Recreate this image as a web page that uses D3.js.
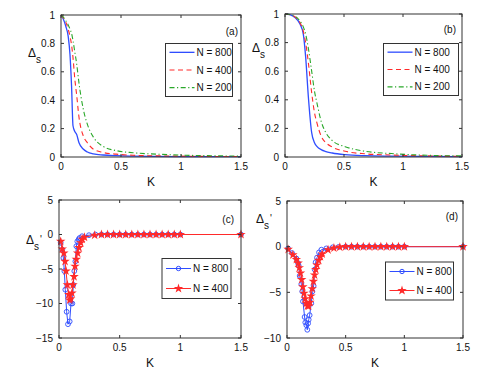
<!DOCTYPE html>
<html><head><meta charset="utf-8">
<script src="https://cdn.jsdelivr.net/npm/d3@7"></script>
<style>
body{margin:0;background:#fff;}
svg text{font-family:"Liberation Sans",Arial,sans-serif;fill:#111;}
</style></head>
<body><svg id="c" width="491" height="382"></svg>
<script>
// ---------- data ----------
const kA = [0,0.02,0.04,0.06,0.075,0.088,0.1,0.115,0.13,0.15,0.185,0.22,0.27,0.35,0.46,0.6,0.8,1.0,1.25,1.5];
const a800 = [1,0.97,0.92,0.85,0.72,0.5,0.22,0.18,0.16,0.1,0.056,0.035,0.022,0.014,0.009,0.006,0.004,0.003,0.002,0.002];
const a400 = [1,0.98,0.95,0.9,0.85,0.79,0.7,0.55,0.44,0.28,0.15,0.1,0.055,0.032,0.02,0.012,0.008,0.006,0.004,0.003];
const a200 = [1,0.985,0.96,0.93,0.9,0.87,0.82,0.74,0.66,0.52,0.34,0.23,0.14,0.075,0.045,0.03,0.02,0.013,0.009,0.006];

const kB = [0,0.04,0.085,0.127,0.155,0.175,0.198,0.226,0.25,0.27,0.31,0.34,0.4,0.51,0.68,0.9,1.2,1.5];
const b800 = [1,0.995,0.975,0.93,0.86,0.7,0.42,0.17,0.1,0.074,0.05,0.04,0.028,0.016,0.009,0.006,0.004,0.003];
const b400 = [1,0.995,0.98,0.94,0.88,0.8,0.66,0.45,0.31,0.24,0.14,0.105,0.07,0.04,0.022,0.014,0.008,0.005];
const b200 = [1,0.997,0.985,0.95,0.91,0.86,0.76,0.6,0.46,0.38,0.24,0.18,0.115,0.072,0.04,0.024,0.012,0.008];

const kC800 = [0.014,0.027,0.036,0.044,0.052,0.063,0.074,0.088,0.099,0.11,0.118,0.126,0.135,0.143,0.151,0.162,0.17,0.19,0.247,0.3,0.35,0.4,0.45,0.5,0.55,0.6,0.65,0.7,0.75,0.8,0.85,0.9,0.95,1.0,1.5];
const c800  = [-1.2,-2.2,-3.4,-5.3,-8.0,-11.2,-13.0,-12.6,-10.0,-10.0,-7.3,-5.3,-3.9,-1.7,-1.0,-0.7,-0.5,-0.25,-0.1,0,0,0,0,0,0,0,0,0,0,0,0,0,0,0,0];
const kC400 = [0.014,0.027,0.04,0.05,0.058,0.069,0.08,0.088,0.096,0.107,0.115,0.124,0.132,0.143,0.154,0.165,0.179,0.192,0.21,0.294,0.35,0.4,0.45,0.5,0.55,0.6,0.65,0.7,0.75,0.8,0.85,0.9,0.95,1.0,1.5];
const c400  = [-1.0,-2.1,-2.7,-3.9,-5.3,-7.3,-8.7,-9.5,-9.3,-8.5,-7.3,-6.1,-4.6,-3.6,-2.7,-1.9,-1.2,-0.7,-0.4,-0.1,0,0,0,0,0,0,0,0,0,0,0,0,0,0,0];

const kD800 = [0.009,0.043,0.08,0.094,0.1,0.108,0.122,0.13,0.136,0.15,0.156,0.165,0.173,0.18,0.185,0.193,0.207,0.216,0.227,0.236,0.244,0.256,0.273,0.293,0.335,0.39,0.44,0.5,0.55,0.6,0.65,0.7,0.75,0.8,0.85,0.9,0.95,1.0,1.5];
const d800  = [-0.2,-0.7,-1.3,-1.8,-2.1,-3.2,-4.1,-4.9,-6.0,-7.7,-8.3,-8.6,-9.1,-8.4,-8.0,-7.5,-6.2,-4.9,-4.3,-2.5,-1.7,-1.2,-0.63,-0.33,-0.19,-0.07,-0.03,0,0,0,0,0,0,0,0,0,0,0,0];
const kD400 = [0.01,0.05,0.08,0.095,0.105,0.115,0.125,0.135,0.145,0.155,0.165,0.175,0.185,0.195,0.205,0.215,0.225,0.235,0.245,0.255,0.27,0.285,0.3,0.35,0.4,0.45,0.5,0.55,0.6,0.65,0.7,0.75,0.8,0.85,0.9,0.95,1.0,1.5];
const d400  = [-0.3,-0.9,-1.4,-1.8,-2.3,-2.9,-3.6,-4.4,-5.1,-5.7,-6.2,-6.5,-6.5,-6.1,-5.4,-4.6,-3.8,-3.1,-2.5,-2.0,-1.5,-1.1,-0.8,-0.35,-0.15,-0.05,0,0,0,0,0,0,0,0,0,0,0,0];

const xTicks = [0,0.5,1,1.5];
const yTicksAB = [0,0.2,0.4,0.6,0.8,1];
const yTicksC = [-15,-10,-5,0,5];
const yTicksD = [-10,-5,0,5];
const legAB = ["N = 800","N = 400","N = 200"];
const legCD = ["N = 800","N = 400"];

// ---------- drawing ----------
const svg = d3.select("#c");
const BLUE="#2f4dff", RED="#ff2a2a", GREEN="#2aa82a";
const fmt = v => (v<0 ? "\u2212"+Math.abs(v) : String(v));

function panel(o){
  const x = d3.scaleLinear().domain([0,1.5]).range([o.l,o.r]);
  const y = d3.scaleLinear().domain(o.yd).range([o.b,o.t]);
  const g = svg.append("g");
  o.series.forEach(s=>{
    const pts = s.k.map((k,i)=>[k,s.v[i]]);
    const line = d3.line().x(d=>x(d[0])).y(d=>y(d[1]));
    if(s.smooth) line.curve(d3.curveMonotoneX);
    g.append("path").attr("d",line(pts)).attr("fill","none")
      .attr("stroke",s.c).attr("stroke-width",s.w||1.1)
      .attr("stroke-dasharray",s.dash||null);
    if(s.marker==="o"){
      g.selectAll(null).data(pts).enter().append("circle")
        .attr("cx",d=>x(d[0])).attr("cy",d=>y(d[1])).attr("r",2.4)
        .attr("fill","none").attr("stroke",s.c).attr("stroke-width",0.9);
    } else if(s.marker==="*"){
      g.selectAll(null).data(pts).enter().append("path")
        .attr("transform",d=>`translate(${x(d[0])},${y(d[1])})`)
        .attr("d",d3.symbol(d3.symbolStar,28)()).attr("fill",s.c);
    }
  });
  g.append("rect").attr("x",o.l).attr("y",o.t).attr("width",o.r-o.l).attr("height",o.b-o.t)
    .attr("fill","none").attr("stroke","#333").attr("stroke-width",1);
  const tl=3;
  xTicks.forEach(t=>{
    const px=x(t);
    g.append("line").attr("x1",px).attr("x2",px).attr("y1",o.b).attr("y2",o.b-tl).attr("stroke","#333");
    g.append("line").attr("x1",px).attr("x2",px).attr("y1",o.t).attr("y2",o.t+tl).attr("stroke","#333");
    g.append("text").attr("x",px).attr("y",o.b+13).attr("text-anchor","middle").attr("font-size",10).text(t);
  });
  o.yt.forEach(t=>{
    const py=y(t);
    g.append("line").attr("x1",o.l).attr("x2",o.l+tl).attr("y1",py).attr("y2",py).attr("stroke","#333");
    g.append("line").attr("x1",o.r).attr("x2",o.r-tl).attr("y1",py).attr("y2",py).attr("stroke","#333");
    g.append("text").attr("x",o.l-6).attr("y",py+3.5).attr("text-anchor","end").attr("font-size",10).text(fmt(t));
  });
  g.append("text").attr("x",(o.l+o.r)/2).attr("y",o.b+29).attr("text-anchor","middle").attr("font-size",12).text("K");
  const yl = g.append("text").attr("x",o.yl[0]).attr("y",o.yl[1]).attr("font-size",12);
  yl.append("tspan").text("\u0394");
  yl.append("tspan").attr("dy",6).attr("font-size",10).text("s");
  if(o.prime) g.append("text").attr("x",o.yl[0]+14).attr("y",o.yl[1]-1).attr("font-size",10).text("'");
  g.append("text").attr("x",o.pl[0]).attr("y",o.pl[1]).attr("text-anchor","end").attr("font-size",10).text(o.name);
  const L=o.leg;
  g.append("rect").attr("x",L.x).attr("y",L.y).attr("width",L.w).attr("height",L.h)
    .attr("fill","#fff").attr("stroke","#333").attr("stroke-width",1);
  const n=o.series.length;
  o.series.forEach((s,i)=>{
    const ry=L.y+L.h*(i+0.5)/n;
    g.append("line").attr("x1",L.x+4).attr("x2",L.x+29).attr("y1",ry).attr("y2",ry)
      .attr("stroke",s.c).attr("stroke-width",s.w||1.1).attr("stroke-dasharray",s.dash||null);
    if(s.marker==="o") g.append("circle").attr("cx",L.x+16.5).attr("cy",ry).attr("r",2.2).attr("fill","none").attr("stroke",s.c);
    if(s.marker==="*") g.append("path").attr("transform",`translate(${L.x+16.5},${ry})`).attr("d",d3.symbol(d3.symbolStar,28)()).attr("fill",s.c);
    g.append("text").attr("x",L.x+31).attr("y",ry+3.5).attr("font-size",10).text(o.legText[i]);
  });
}

panel({name:"(a)",l:61,r:241,t:15,b:157,yd:[0,1],yt:yTicksAB,yl:[28,57],pl:[238,35],
  leg:{x:165.5,y:43.5,w:67,h:53},legText:legAB,
  series:[{k:kA,v:a800,c:BLUE,w:1.3,smooth:true},{k:kA,v:a400,c:RED,dash:"5,3.5",smooth:true},{k:kA,v:a200,c:GREEN,dash:"5,2.5,1.2,2.5",smooth:true}]});
panel({name:"(b)",l:285,r:462,t:14,b:157,yd:[0,1],yt:yTicksAB,yl:[252,52],pl:[456,33],
  leg:{x:383.5,y:43.5,w:75,h:52},legText:legAB,
  series:[{k:kB,v:b800,c:BLUE,w:1.3,smooth:true},{k:kB,v:b400,c:RED,dash:"5,3.5",smooth:true},{k:kB,v:b200,c:GREEN,dash:"5,2.5,1.2,2.5",smooth:true}]});
panel({name:"(c)",l:59,r:241,t:200,b:338,yd:[-15,5],yt:yTicksC,yl:[26,244],prime:true,pl:[234,223],
  leg:{x:162,y:258.5,w:69,h:40},legText:legCD,
  series:[{k:kC800,v:c800,c:BLUE,marker:"o",w:1},{k:kC400,v:c400,c:RED,marker:"*",w:1}]});
panel({name:"(d)",l:287,r:463,t:201,b:338,yd:[-10,5],yt:yTicksD,yl:[256,223],prime:true,pl:[458,220],
  leg:{x:385.5,y:262,w:68,h:38},legText:legCD,
  series:[{k:kD800,v:d800,c:BLUE,marker:"o",w:1},{k:kD400,v:d400,c:RED,marker:"*",w:1}]});
</script></body></html>
